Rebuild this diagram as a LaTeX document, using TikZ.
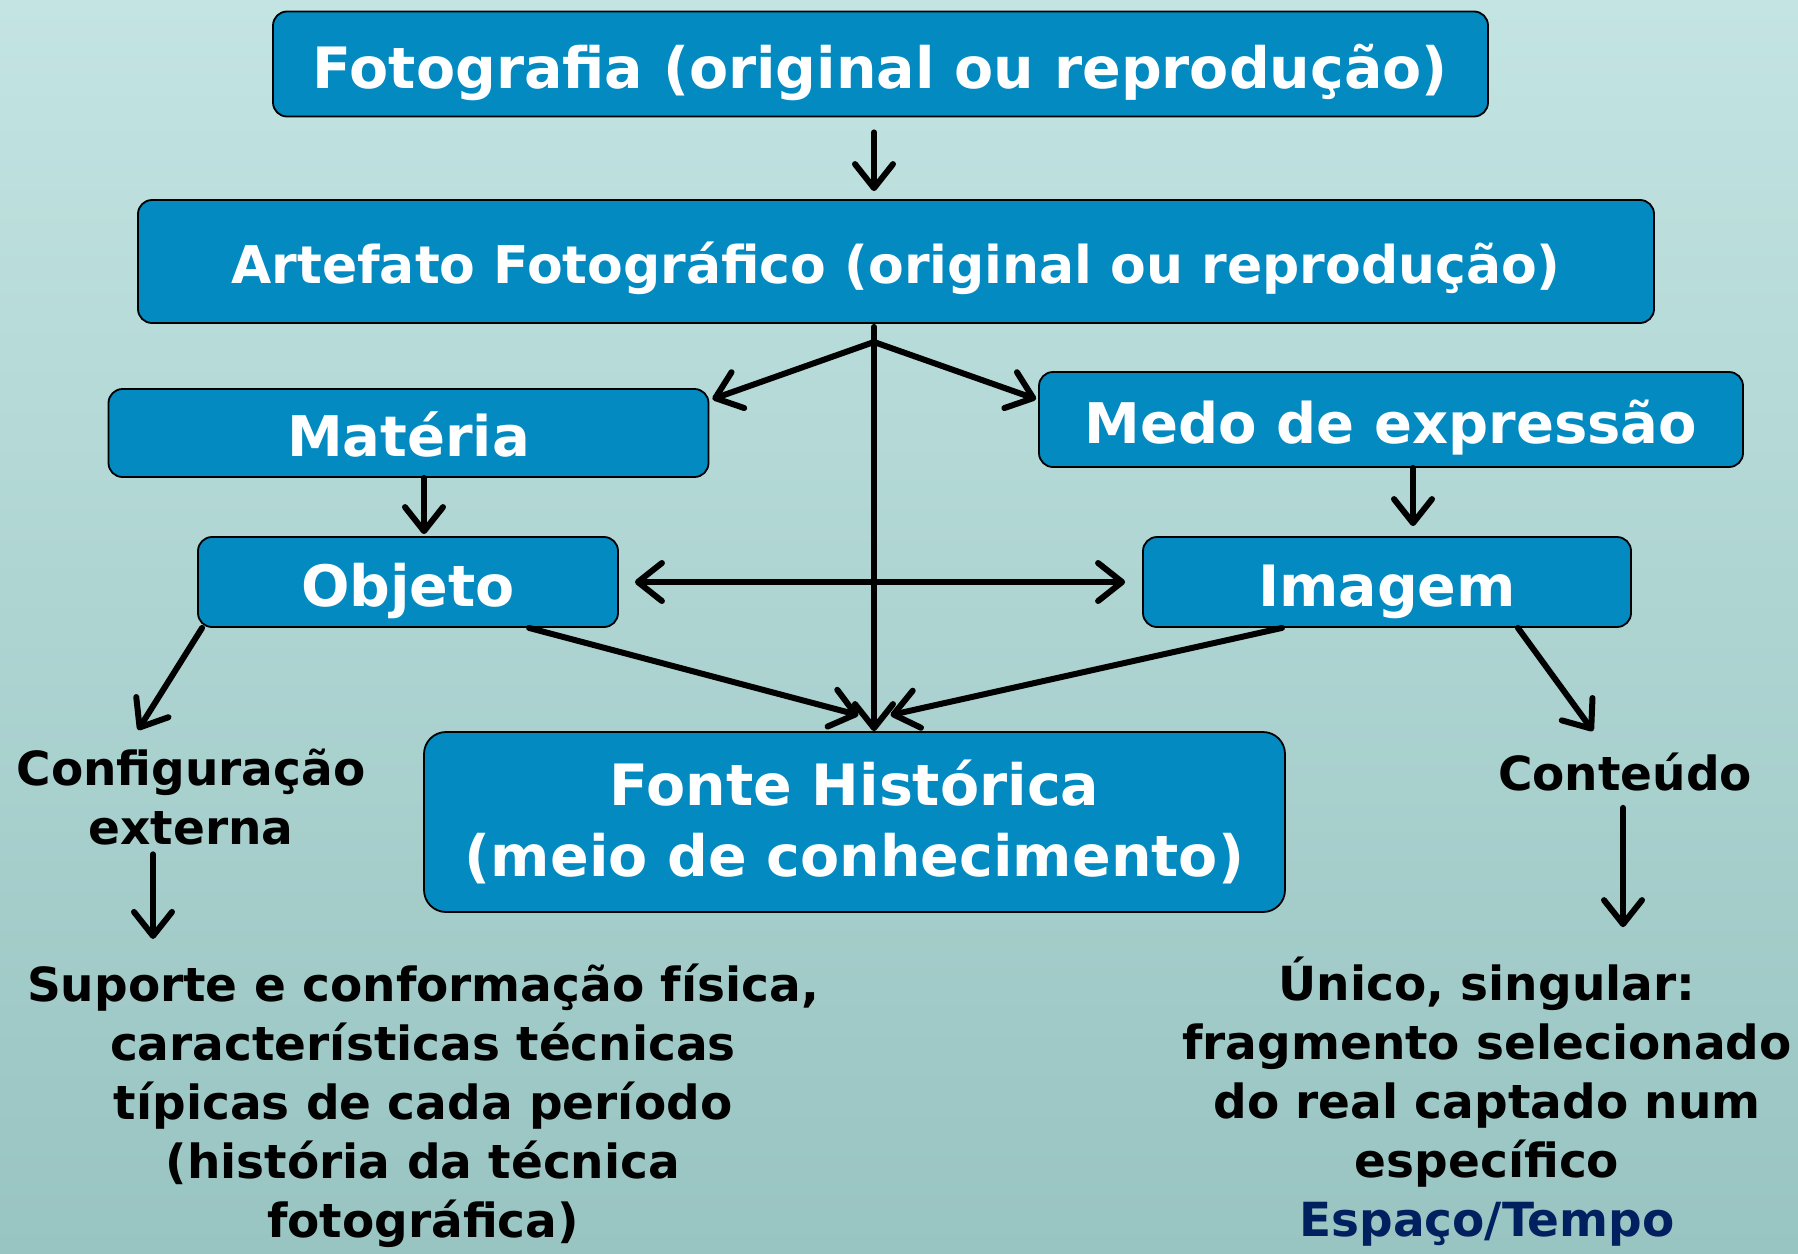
\documentclass[tikz,border=0pt]{standalone}
\usepackage{fontspec}
\setmainfont{DejaVu Sans}
\usetikzlibrary{arrows.meta}
\definecolor{bgtop}{HTML}{C3E4E2}
\definecolor{bgbot}{HTML}{98C4C1}
\definecolor{boxblue}{HTML}{038AC1}
\definecolor{navy}{HTML}{002060}
\begin{document}
\begin{tikzpicture}[x=1pt,y=-1pt,
  box/.style={draw=black, line width=1.8pt, fill=boxblue, rounded corners=14pt,
    text=white, inner sep=0pt, align=center},
  lbl/.style={font=\fontsize{47}{59}\selectfont\bfseries, align=center, inner sep=0pt, text=black},
  arr/.style={line width=6pt, line cap=round, black,
    -{Straight Barb[length=24pt,width=38pt,round]}},
  arrboth/.style={line width=6pt, line cap=round, black,
    {Straight Barb[length=24pt,width=38pt,round]}-{Straight Barb[length=24pt,width=38pt,round]}},
]
\shade[top color=bgtop, bottom color=bgbot] (0,0) rectangle (1798,1253);
\useasboundingbox (0,0) rectangle (1798,1253);

% boxes
\node[box, minimum width=1215pt, minimum height=105pt, text height=51pt, text depth=3pt,
  font=\fontsize{57}{60}\selectfont\bfseries] (foto) at (880.5,64) {Fotografia (original ou reprodução)};
\node[box, minimum width=1516pt, minimum height=123pt, text height=47pt, text depth=3pt,
  font=\fontsize{52}{60}\selectfont\bfseries] (arte) at (896,261.5) {Artefato Fotográfico (original ou reprodução)};
\node[box, minimum width=600pt, minimum height=88pt, text height=50pt, text depth=3pt,
  font=\fontsize{56}{60}\selectfont\bfseries] (mat) at (408.5,433) {Matéria};
\node[box, minimum width=704pt, minimum height=95pt, text height=50pt, text depth=3pt,
  font=\fontsize{56}{60}\selectfont\bfseries] (medo) at (1391,419.5) {Medo de expressão};
\node[box, minimum width=420pt, minimum height=90pt, text height=51pt, text depth=3pt,
  font=\fontsize{57}{60}\selectfont\bfseries] (obj) at (408,582) {Objeto};
\node[box, minimum width=488pt, minimum height=90pt, text height=51pt, text depth=3pt,
  font=\fontsize{57}{60}\selectfont\bfseries] (img) at (1387,582) {Imagem};
\node[box, rounded corners=22pt, minimum width=861pt, minimum height=180pt,
  font=\fontsize{57}{71}\selectfont\bfseries] (fonte) at (854.5,822) {Fonte Histórica\\(meio de conhecimento)};

% labels
\node[lbl] (cfg) at (191,797) {Configuração\\externa};
\node[lbl] (sup) at (423,1106) {Suporte e conformação física,\\características técnicas\\típicas de cada período\\(história da técnica\\fotográfica)};
\node[lbl, anchor=base] (cont) at (1625,790) {Conteúdo};
\node[lbl] (unico) at (1487,1102) {Único, singular:\\fragmento selecionado\\do real captado num\\específico\\{\color{navy}Espaço/Tempo}};

% helper coordinates
\coordinate (cx) at (874,0);
\coordinate (br) at (874,342);
\coordinate (mx) at (424,0);
\coordinate (ix) at (1413,0);
\coordinate (sx) at (153,0);
\coordinate (tx) at (1623,0);
\coordinate (cfgin) at (138,730);
\coordinate (contin) at (1593,731);

% connectors
\draw[arr, shorten <=15pt, shorten >=8pt] (foto.south -| cx) -- (arte.north -| cx);
\draw[arr, shorten <=3pt] (arte.south -| cx) -- (fonte.north -| cx);
\draw[arr] (br) -- ([xshift=3pt,yshift=-11pt]mat.north east);
\draw[arr] (br) -- ([xshift=-2pt,yshift=-28pt]medo.north west);
\draw[arr, shorten >=2pt] (mat.south -| mx) -- (obj.north -| mx);
\draw[arr, shorten >=10pt] (medo.south -| ix) -- (img.north -| ix);
\draw[arrboth, shorten <=16pt, shorten >=17pt] (obj.east) -- (img.west);
\draw[arr] ([xshift=121pt]obj.south) -- ([xshift=4pt,yshift=16pt]fonte.north);
\draw[arr] ([xshift=-105pt]img.south) -- ([xshift=36pt,yshift=16pt]fonte.north);
\draw[arr] ([xshift=5pt]obj.south west) -- (cfgin);
\draw[arr] ([xshift=-114pt]img.south east) -- (contin);
\draw[arr, shorten <=9pt, shorten >=25pt] (cfg.south -| sx) -- (sup.north -| sx);
\draw[arr, shorten <=17pt, shorten >=30pt] (cont.south -| tx) -- (unico.north -| tx);
\end{tikzpicture}
\end{document}
